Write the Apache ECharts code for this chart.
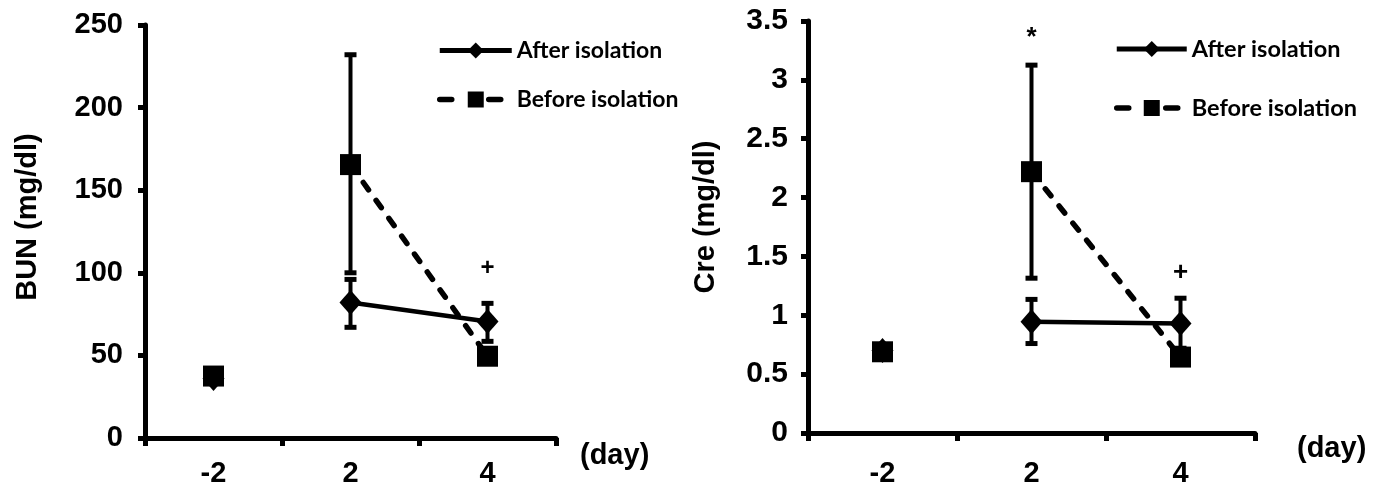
<!DOCTYPE html>
<html>
<head>
<meta charset="utf-8">
<script src="https://cdn.jsdelivr.net/npm/echarts@6/dist/echarts.min.js"></script>
<style>
html,body{margin:0;padding:0;background:#fff;}
#c{width:1383px;height:488px;}
</style>
</head>
<body>
<div id="c"></div>
<script>
// ---- data ----
const days = ['-2', '2', '4'];
const seriesNames = ['After isolation', 'Before isolation'];

const bunTicks = [0, 50, 100, 150, 200, 250];
const bunAfter = [36, 82, 70.5];
const bunAfterLow = [null, 67, 58.5];
const bunAfterHigh = [null, 96, 81.5];
const bunBefore = [37.5, 165.5, 49.5];
const bunBeforeLow = [null, 100, null];
const bunBeforeHigh = [null, 232, null];
const bunMarks = [{ day: '4', value: 102.5, text: '+' }];

const creTicks = [0, 0.5, 1, 1.5, 2, 2.5, 3, 3.5];
const creAfter = [0.70, 0.945, 0.93];
const creAfterLow = [null, 0.76, 0.72];
const creAfterHigh = [null, 1.135, 1.145];
const creBefore = [0.69, 2.22, 0.645];
const creBeforeLow = [null, 1.315, null];
const creBeforeHigh = [null, 3.125, null];
const creMarks = [{ day: '2', value: 3.36, text: '*' }, { day: '4', value: 1.36, text: '+' }];

// ---- helpers ----
const FONT = '"Liberation Sans", Arial, sans-serif';
const lineOnly = arr => arr.map((v, i) => i === 0 ? '-' : v);
const firstOnly = arr => arr.map((v, i) => i === 0 ? v : '-');
function errData(low, high) {
  const out = [];
  low.forEach((l, i) => { if (l != null && high[i] != null) out.push([i, l, high[i]]); });
  return out;
}
function errRender(params, api) {
  const x = api.value(0), lo = api.value(1), hi = api.value(2);
  const t = api.coord([x, hi]), b = api.coord([x, lo]);
  const hw = 6;
  return {
    type: 'group',
    children: [
      { type: 'line', shape: { x1: t[0], y1: t[1], x2: b[0], y2: b[1] }, style: { stroke: '#000', lineWidth: 4 } },
      { type: 'line', shape: { x1: t[0] - hw, y1: t[1], x2: t[0] + hw, y2: t[1] }, style: { stroke: '#000', lineWidth: 5 } },
      { type: 'line', shape: { x1: b[0] - hw, y1: b[1], x2: b[0] + hw, y2: b[1] }, style: { stroke: '#000', lineWidth: 5 } }
    ]
  };
}
function markRender(marks, size) {
  return function (params, api) {
    const p = api.coord([api.value(0), api.value(1)]);
    const m = marks[params.dataIndex];
    return {
      type: 'text', x: p[0], y: p[1],
      style: { text: m.text, font: 'bold ' + size + 'px ' + FONT, fill: '#000',
        align: 'center', verticalAlign: 'middle', textAlign: 'center', textVerticalAlign: 'middle' }
    };
  };
}
function markData(marks) { return marks.map(m => [days.indexOf(m.day), m.value]); }

const diamondSize = [22, 25];
const squareSize = 21;

function buildSeries(g, after, afterLo, afterHi, before, beforeLo, beforeHi, marks) {
  return [
    { type: 'custom', name: 'errA' + g, xAxisIndex: g, yAxisIndex: g, renderItem: errRender,
      data: errData(afterLo, afterHi), encode: { x: 0, y: [1, 2] }, z: 2, silent: true },
    { type: 'custom', name: 'errB' + g, xAxisIndex: g, yAxisIndex: g, renderItem: errRender,
      data: errData(beforeLo, beforeHi), encode: { x: 0, y: [1, 2] }, z: 2, silent: true },
    { type: 'scatter', name: 'ptA' + g, xAxisIndex: g, yAxisIndex: g, data: firstOnly(after),
      symbol: 'diamond', symbolSize: diamondSize, itemStyle: { color: '#000', opacity: 1 }, z: 3 },
    { type: 'scatter', name: 'ptB' + g, xAxisIndex: g, yAxisIndex: g, data: firstOnly(before),
      symbol: 'rect', symbolSize: squareSize, itemStyle: { color: '#000', opacity: 1 }, z: 4 },
    { type: 'line', name: seriesNames[0], xAxisIndex: g, yAxisIndex: g, data: lineOnly(after),
      symbol: 'diamond', symbolSize: diamondSize, showAllSymbol: true,
      itemStyle: { color: '#000' }, lineStyle: { color: '#000', width: 4.5 }, z: 3 },
    { type: 'line', name: seriesNames[1], xAxisIndex: g, yAxisIndex: g, data: lineOnly(before),
      symbol: 'rect', symbolSize: squareSize, showAllSymbol: true,
      itemStyle: { color: '#000' }, lineStyle: { color: '#000', width: 5.5, type: [9, 13], cap: 'round' }, z: 4 },
    { type: 'custom', name: 'mk' + g, xAxisIndex: g, yAxisIndex: g, renderItem: markRender(marks, g === 0 ? 24 : 26),
      data: markData(marks), encode: { x: 0, y: 1 }, z: 5, silent: true }
  ];
}

function xAxisCfg(g, margin) {
  return {
    type: 'category', gridIndex: g, data: days, boundaryGap: true,
    axisLine: { lineStyle: { color: '#000', width: 5 } },
    axisTick: { show: true, length: 8, lineStyle: { color: '#000', width: 5 } },
    axisLabel: { color: '#000', fontFamily: FONT, fontWeight: 'bold', fontSize: 29, margin: margin },
    splitLine: { show: false }
  };
}
function yAxisCfg(g, ticks, margin, fs) {
  return {
    type: 'value', gridIndex: g, min: ticks[0], max: ticks[ticks.length - 1], interval: ticks[1] - ticks[0],
    axisLine: { show: true, lineStyle: { color: '#000', width: 5 } },
    axisTick: { show: true, length: 7, lineStyle: { color: '#000', width: 5 } },
    axisLabel: { color: '#000', fontFamily: FONT, fontWeight: 'bold', fontSize: fs, margin: margin },
    splitLine: { show: false }
  };
}
function legendCfg(left, top, gap, width, fs) {
  return {
    orient: 'vertical', left: left, top: top, itemGap: gap, itemWidth: width, itemHeight: 20,
    itemTextGap: 6, padding: 0, selectedMode: false,
    lineStyle: { width: 5, color: '#000' },
    textStyle: { fontFamily: 'Lato, "Open Sans", sans-serif', fontWeight: 'bold', fontSize: fs, color: '#000' },
    data: [
      { name: seriesNames[0], lineStyle: { width: 5, type: 'solid' } },
      { name: seriesNames[1], lineStyle: { width: 5.5, type: [12, 37], cap: 'round' } }
    ]
  };
}

const chart = echarts.init(document.getElementById('c'), null, { renderer: 'canvas' });
const ylabelFont = 'bold 29px ' + FONT;
chart.setOption({
  animation: false,
  backgroundColor: '#fff',
  grid: [
    { left: 145, top: 25, width: 411, height: 414 },
    { left: 808, top: 21, width: 447, height: 412 }
  ],
  xAxis: [xAxisCfg(0, 21), xAxisCfg(1, 26)],
  yAxis: [yAxisCfg(0, bunTicks, 22, 29), yAxisCfg(1, creTicks, 20, 30)],
  legend: [
    legendCfg(437, 39, 26, 72, 23),
    legendCfg(1114, 37, 35, 70, 23.5)
  ],
  graphic: [
    { type: 'text', x: 28, y: 217, rotation: Math.PI / 2,
      style: { text: 'BUN (mg/dl)', font: ylabelFont, fill: '#000', align: 'center', verticalAlign: 'middle', textAlign: 'center', textVerticalAlign: 'middle' } },
    { type: 'text', x: 706, y: 217, rotation: Math.PI / 2,
      style: { text: 'Cre (mg/dl)', font: ylabelFont, fill: '#000', align: 'center', verticalAlign: 'middle', textAlign: 'center', textVerticalAlign: 'middle' } },
    { type: 'text', x: 580, y: 456,
      style: { text: '(day)', font: 'bold 29px ' + FONT, fill: '#000', align: 'left', verticalAlign: 'middle', textAlign: 'left', textVerticalAlign: 'middle' } },
    { type: 'text', x: 1297, y: 449,
      style: { text: '(day)', font: 'bold 29px ' + FONT, fill: '#000', align: 'left', verticalAlign: 'middle', textAlign: 'left', textVerticalAlign: 'middle' } }
  ],
  series: [].concat(
    buildSeries(0, bunAfter, bunAfterLow, bunAfterHigh, bunBefore, bunBeforeLow, bunBeforeHigh, bunMarks),
    buildSeries(1, creAfter, creAfterLow, creAfterHigh, creBefore, creBeforeLow, creBeforeHigh, creMarks)
  )
});
</script>
</body>
</html>
